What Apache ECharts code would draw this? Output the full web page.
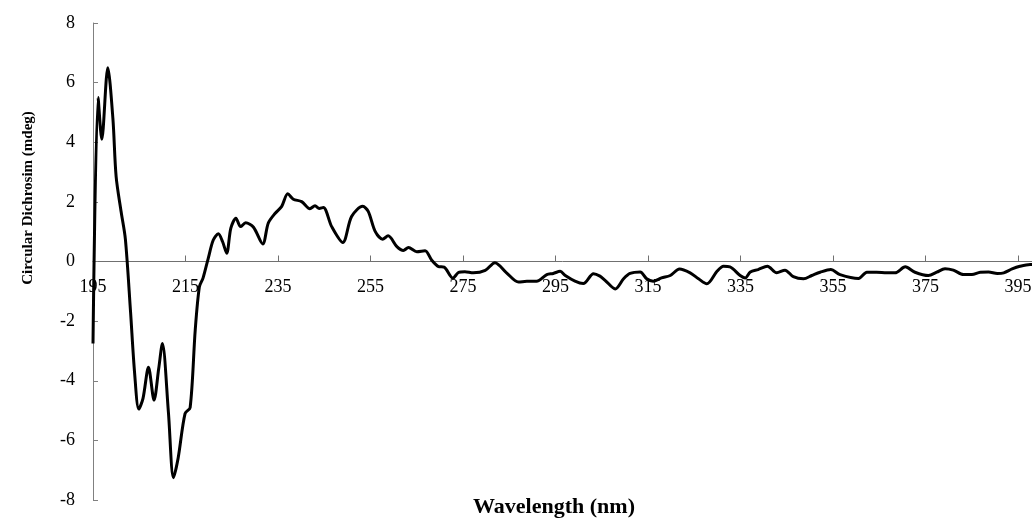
<!DOCTYPE html>
<html>
<head>
<meta charset="utf-8">
<script src="https://cdn.jsdelivr.net/npm/echarts@6/dist/echarts.min.js"></script>
<style>html,body{margin:0;padding:0;background:#fff}#c{width:1032px;height:522px}</style>
</head>
<body>
<div id="c"></div>
<script>
const wavelength = [195.0, 196.1, 196.9, 198.2, 199.3, 200.0, 201.1, 202.0, 203.1, 204.0, 204.9, 205.8, 207.0, 208.2, 209.2, 210.0, 211.3, 212.4, 213.4, 214.9, 216.0, 217.1, 218.0, 218.8, 219.9, 221.0, 222.1, 223.0, 223.9, 224.8, 225.9, 226.9, 228.0, 229.7, 231.7, 232.9, 234.4, 235.8, 237.1, 238.3, 240.1, 241.9, 243.0, 243.9, 244.8, 246.6, 249.0, 250.9, 253.3, 254.5, 256.0, 257.6, 258.8, 260.7, 262.1, 263.2, 265.0, 266.8, 268.2, 269.7, 270.9, 272.8, 274.0, 275.4, 277.2, 279.8, 281.9, 284.4, 287.0, 288.8, 290.9, 293.1, 294.5, 296.0, 297.1, 299.2, 301.0, 303.2, 304.6, 305.7, 307.9, 309.7, 311.1, 313.3, 314.7, 316.1, 317.9, 319.8, 321.8, 324.1, 325.9, 327.7, 329.9, 331.3, 332.7, 334.9, 336.0, 337.1, 338.8, 340.8, 342.8, 344.6, 346.4, 348.6, 350.4, 352.2, 354.5, 356.5, 360.5, 362.3, 364.4, 366.6, 368.4, 370.6, 372.7, 375.6, 377.4, 379.2, 381.0, 383.2, 385.0, 386.8, 388.6, 390.5, 391.9, 393.7, 395.4, 397.6, 398.0];
const cd = [-2.75, 5.5, 4.1, 6.5, 4.8, 2.85, 1.65, 0.75, -1.65, -3.75, -4.95, -4.6, -3.55, -4.65, -3.6, -2.75, -5.05, -7.25, -6.6, -5.1, -4.9, -2.3, -0.85, -0.55, 0.1, 0.72, 0.93, 0.67, 0.28, 1.12, 1.45, 1.17, 1.3, 1.15, 0.59, 1.29, 1.62, 1.85, 2.27, 2.09, 2.01, 1.77, 1.87, 1.78, 1.81, 1.17, 0.64, 1.51, 1.85, 1.68, 1.01, 0.75, 0.86, 0.5, 0.37, 0.47, 0.33, 0.36, 0.05, -0.17, -0.19, -0.56, -0.37, -0.34, -0.38, -0.3, -0.04, -0.38, -0.69, -0.66, -0.66, -0.44, -0.4, -0.33, -0.47, -0.66, -0.74, -0.41, -0.49, -0.63, -0.92, -0.58, -0.4, -0.35, -0.58, -0.66, -0.55, -0.47, -0.25, -0.38, -0.58, -0.75, -0.33, -0.16, -0.18, -0.47, -0.55, -0.35, -0.27, -0.16, -0.38, -0.29, -0.51, -0.58, -0.47, -0.36, -0.27, -0.44, -0.57, -0.36, -0.36, -0.38, -0.38, -0.18, -0.36, -0.47, -0.36, -0.24, -0.29, -0.44, -0.44, -0.36, -0.35, -0.4, -0.38, -0.25, -0.16, -0.1, -0.1];
const xTicks = [195, 215, 235, 255, 275, 295, 315, 335, 355, 375, 395];
const yTicks = [-8, -6, -4, -2, 0, 2, 4, 6, 8];
const xTitle = 'Wavelength (nm)';
const yTitle = 'Circular Dichrosim (mdeg)';

const chart = echarts.init(document.getElementById('c'), null, {renderer: 'canvas'});
const font = 'Liberation Serif, Times New Roman, serif';
const gridTop = 23, gridBottom = 22, H = 522;
const plotH = H - gridTop - gridBottom;
// distance from grid bottom edge up to the y = 0 line
const zeroOffset = -plotH * (0 - (-8)) / (8 - (-8));
chart.setOption({
  animation: false,
  backgroundColor: '#fff',
  grid: {left: 93, right: 0, top: gridTop, bottom: gridBottom, containLabel: false, outerBoundsMode: 'none'},
  xAxis: {
    type: 'value', min: 195, max: 398, position: 'bottom', offset: zeroOffset,
    axisLine: {onZero: false, lineStyle: {color: '#707070', width: 1}},
    axisTick: {inside: true, length: 6, lineStyle: {color: '#707070'}, customValues: xTicks},
    axisLabel: {customValues: xTicks, margin: 17, fontFamily: font, fontSize: 18, color: '#000'},
    splitLine: {show: false}
  },
  yAxis: {
    type: 'value', min: -8, max: 8,
    axisLine: {show: true, lineStyle: {color: '#808080', width: 1}},
    axisTick: {show: true, inside: true, length: 5, lineStyle: {color: '#808080'}, customValues: yTicks},
    axisLabel: {customValues: yTicks, margin: 18, fontFamily: font, fontSize: 18, color: '#000'},
    splitLine: {show: false}
  },
  graphic: [
    {type: 'text', x: 554, y: 507,
     style: {text: xTitle, font: 'bold 22px ' + font, fill: '#000', textAlign: 'center', textVerticalAlign: 'middle'}},
    {type: 'text', x: 28, y: 198, rotation: Math.PI / 2,
     style: {text: yTitle, font: 'bold 15px ' + font, fill: '#000', textAlign: 'center', textVerticalAlign: 'middle'}}
  ],
  series: [{
    type: 'line',
    data: wavelength.map((w, i) => [w, cd[i]]),
    showSymbol: false,
    smooth: 0.3,
    lineStyle: {color: '#000', width: 3},
    clip: true
  }]
});
</script>
</body>
</html>
